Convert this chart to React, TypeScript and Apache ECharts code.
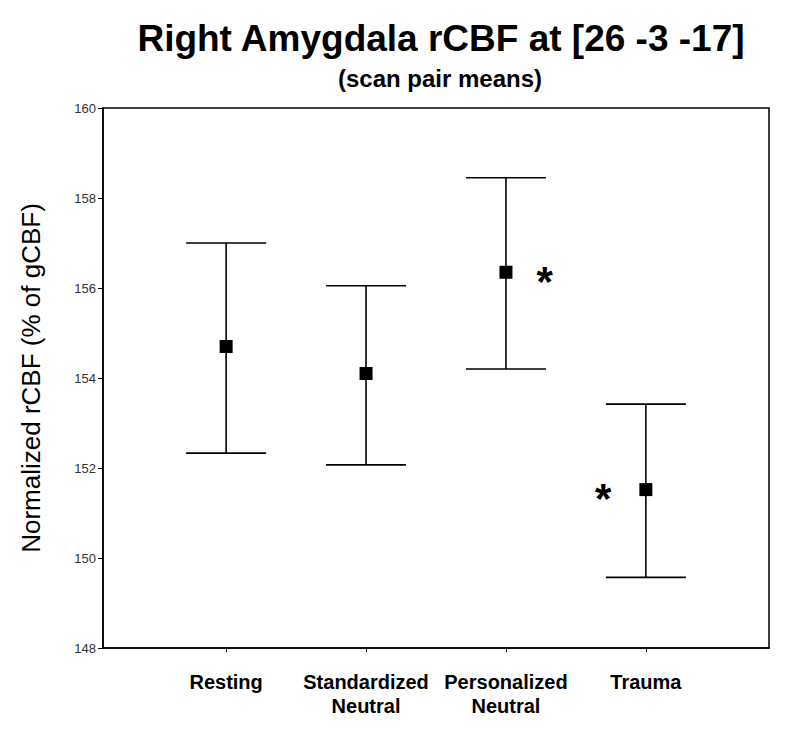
import React, { useEffect, useRef } from "react";
import * as echarts from "echarts";

const categories = ["Resting", "Standardized\nNeutral", "Personalized\nNeutral", "Trauma"];
const positions = [1, 2, 3, 4];
const means = [154.7, 154.1, 156.35, 151.52];
const upper = [157.0, 156.05, 158.45, 153.42];
const lower = [152.33, 152.07, 154.2, 149.57];
const significant = ["", "", "right", "left"];
const yTicks = [148, 150, 152, 154, 156, 158, 160];

export default function App() {
  const ref = useRef<HTMLDivElement>(null);
  useEffect(() => {
    if (!ref.current) return;
    const chart = echarts.init(ref.current, undefined, { renderer: "svg" });
    const font = "Arial, 'Liberation Sans', Helvetica, sans-serif";
    const errData = positions.map((p, i) => [p, lower[i], upper[i]]);
    const meanData = positions.map((p, i) => {
      const side = significant[i];
      const item: any = { value: [p, means[i]] };
      if (side) {
        item.label = {
          show: true,
          formatter: "*",
          position: side,
          distance: side === "right" ? 24 : 28,
          fontSize: 42,
          fontWeight: "bold",
          color: "#000",
          textBorderWidth: 0,
          fontFamily: font,
          offset: [0, 9],
        };
      }
      return item;
    });
    chart.setOption({
      animation: false,
      backgroundColor: "#fff",
      title: [
        {
          text: "Right Amygdala rCBF at [26 -3 -17]",
          left: 436,
          top: 15,
          textAlign: "center",
          textStyle: { fontFamily: font, fontSize: 37, fontWeight: "bold", color: "#000" },
        },
        {
          text: "(scan pair means)",
          left: 435,
          top: 61,
          textAlign: "center",
          textStyle: { fontFamily: font, fontSize: 24, fontWeight: "bold", color: "#000" },
        },
      ],
      grid: {
        left: 103,
        top: 108,
        right: 25,
        bottom: 82,
        show: true,
        borderColor: "#000",
        borderWidth: 1.5,
        backgroundColor: "transparent",
      },
      xAxis: {
        type: "value",
        min: 0.12,
        max: 4.88,
        splitLine: { show: false },
        axisLine: { show: true, lineStyle: { color: "#000", width: 1.5 } },
        axisTick: {
          show: true,
          customValues: positions,
          length: 4,
          inside: false,
          lineStyle: { color: "#000", width: 1 },
        },
        axisLabel: {
          customValues: positions,
          formatter: (v: number) => {
            const idx = positions.indexOf(Math.round(v));
            return idx >= 0 ? categories[idx] : "";
          },
          margin: 22,
          fontFamily: font,
          fontSize: 20,
          fontWeight: "bold",
          color: "#000",
          lineHeight: 24,
        },
      },
      yAxis: {
        type: "value",
        min: 148,
        max: 160,
        interval: 2,
        name: "Normalized rCBF (% of gCBF)",
        nameLocation: "middle",
        nameGap: 59,
        nameTextStyle: { fontFamily: font, fontSize: 26, color: "#000" },
        splitLine: { show: false },
        axisLine: { show: true, lineStyle: { color: "#000", width: 1.5 } },
        axisTick: { show: true, length: 5, inside: false, lineStyle: { color: "#000", width: 1 } },
        axisLabel: {
          formatter: (v: number) => (yTicks.includes(v) ? String(v) : ""),
          margin: 7,
          fontFamily: font,
          fontSize: 13,
          color: "#333",
        },
      },
      series: [
        {
          type: "custom",
          data: errData,
          encode: { x: 0, y: [1, 2] },
          renderItem: (params: any, api: any) => {
            const x = api.value(0);
            const lo = api.coord([x, api.value(1)]);
            const hi = api.coord([x, api.value(2)]);
            const hw = 40;
            const style = { stroke: "#000", lineWidth: 1.6 };
            return {
              type: "group",
              children: [
                { type: "line", shape: { x1: lo[0], y1: lo[1], x2: hi[0], y2: hi[1] }, style },
                { type: "line", shape: { x1: hi[0] - hw, y1: hi[1], x2: hi[0] + hw, y2: hi[1] }, style },
                { type: "line", shape: { x1: lo[0] - hw, y1: lo[1], x2: lo[0] + hw, y2: lo[1] }, style },
              ],
            };
          },
          z: 2,
        },
        {
          type: "scatter",
          data: meanData,
          symbol: "rect",
          symbolSize: 13,
          itemStyle: { color: "#000", opacity: 1 },
          z: 3,
        },
      ],
    });
    return () => chart.dispose();
  }, []);
  return <div ref={ref} style={{ width: 794, height: 730, margin: -8 }} />;
}
